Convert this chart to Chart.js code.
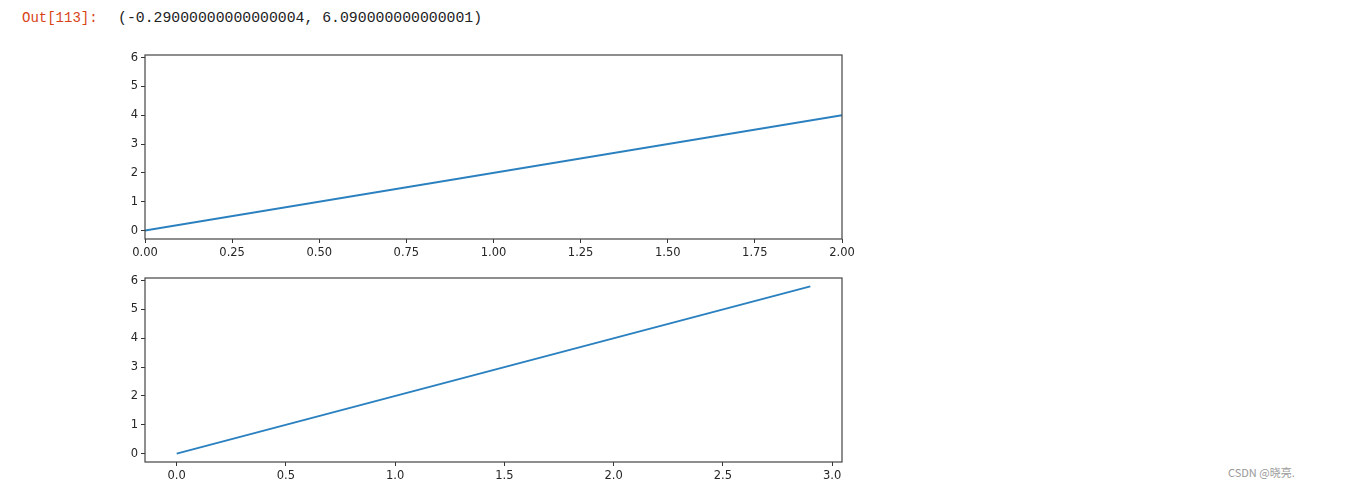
<!DOCTYPE html>
<html>
<head>
<meta charset="utf-8">
<script src="https://cdn.jsdelivr.net/npm/chart.js@4"></script>
<style>
  body { margin: 0; background: #fff; width: 1349px; height: 488px; position: relative; overflow: hidden; }
  .out { position: absolute; left: 22px; top: 10px; font-family: "Liberation Mono", monospace; font-size: 14px; color: #d84315; }
  .val { position: absolute; left: 118px; top: 10px; font-family: "Liberation Mono", monospace; font-size: 14.8px; color: #222; }
  .mark { position: absolute; left: 1228px; top: 464px; font-family: "Noto Sans CJK SC", sans-serif; font-size: 11px; color: #999; }
  canvas { position: absolute; }
</style>
</head>
<body>
<div class="out">Out[113]:</div>
<div class="val">(-0.29000000000000004, 6.090000000000001)</div>
<div class="mark">CSDN @晓亮.</div>
<canvas id="top" width="760" height="220" style="left:100px;top:45px"></canvas>
<canvas id="bottom" width="760" height="220" style="left:100px;top:267px"></canvas>
<script>
// line data (y = 2x), endpoints
const topX = [0, 2];
const topY = [0, 4];
const bottomX = [0, 2.9];
const bottomY = [0, 5.8];

// axis limits and tick labels
const yLimits = [-0.29, 6.09];
const yTicks = [0, 1, 2, 3, 4, 5, 6];
const topXLimits = [0, 2];
const topXTicks = [0, 0.25, 0.5, 0.75, 1.0, 1.25, 1.5, 1.75, 2.0];
const bottomXLimits = [-0.145, 3.045];
const bottomXTicks = [0, 0.5, 1.0, 1.5, 2.0, 2.5, 3.0];

const frame = {
    id: 'frame',
    afterDraw(chart) {
        const a = chart.chartArea;
        const c = chart.ctx;
        c.save();
        c.strokeStyle = '#444';
        c.lineWidth = 1.2;
        c.strokeRect(a.left, a.top, a.right - a.left, a.bottom - a.top);
        c.restore();
    }
};

const makeChart = (id, xs, ys, xLim, xTicks, decimals, pad) => {
    const axisStyle = {
        border: { display: false },
        grid: { drawOnChartArea: false, drawTicks: true, tickLength: 4, color: '#333', lineWidth: 1 },
        ticks: { color: '#262626', font: { family: 'DejaVu Sans', size: 11.5 }, padding: 3, autoSkip: false, maxRotation: 0 }
    };
    return new Chart(document.getElementById(id), {
        type: 'line',
        data: {
            datasets: [{
                data: xs.map((x, i) => ({ x: x, y: ys[i] })),
                borderColor: '#2b80bf',
                borderWidth: 2,
                pointRadius: 0,
                fill: false,
                tension: 0
            }]
        },
        options: {
            responsive: false,
            animation: false,
            layout: { padding: pad },
            plugins: { legend: { display: false }, tooltip: { enabled: false } },
            scales: {
                x: {
                    type: 'linear', min: xLim[0], max: xLim[1],
                    ...axisStyle,
                    ticks: { ...axisStyle.ticks, callback: v => v.toFixed(decimals) },
                    afterBuildTicks: s => { s.ticks = xTicks.map(v => ({ value: v })); },
                    afterFit: s => { s.height = 22; }
                },
                y: {
                    type: 'linear', min: yLimits[0], max: yLimits[1],
                    ...axisStyle,
                    ticks: { ...axisStyle.ticks, callback: v => String(v) },
                    afterBuildTicks: s => { s.ticks = yTicks.map(v => ({ value: v })); },
                    afterFit: s => { s.width = 45; }
                }
            }
        },
        plugins: [frame]
    });
};

makeChart('top', topX, topY, topXLimits, topXTicks, 2, { top: 10, right: 18, bottom: 4, left: 0 });
makeChart('bottom', bottomX, bottomY, bottomXLimits, bottomXTicks, 1, { top: 11, right: 18, bottom: 3, left: 0 });
</script>
</body>
</html>
